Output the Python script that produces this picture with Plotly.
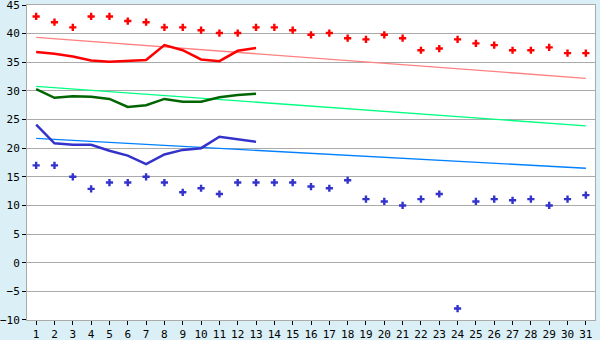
import plotly.graph_objects as go

days = list(range(1, 32))
max_pts = [43, 42, 41.1, 43, 43, 42.2, 42, 41.1, 41.1, 40.6, 40.1, 40.1, 41.1, 41.1, 40.6,
           39.8, 40.1, 39.2, 39.0, 39.8, 39.2, 37.1, 37.4, 39.0, 38.3, 38.0, 37.1, 37.1,
           37.6, 36.6, 36.6]
min_pts = [17.0, 17.0, 15.0, 12.9, 14.0, 14.0, 15.0, 14.0, 12.3, 13.0, 12.0, 14.0, 14.0,
           14.0, 14.0, 13.3, 13.0, 14.4, 11.1, 10.7, 10.0, 11.1, 12.0, -8.0, 10.7, 11.1,
           10.9, 11.1, 10.0, 11.1, 11.8]
line_days = list(range(1, 14))
max_line = [36.8, 36.5, 36.0, 35.3, 35.1, 35.2, 35.4, 38.0, 37.1, 35.5, 35.2, 37.0, 37.5]
mean_line = [30.3, 28.8, 29.05, 29.0, 28.6, 27.2, 27.5, 28.6, 28.1, 28.1, 28.9, 29.3, 29.5]
min_line = [24.1, 20.85, 20.6, 20.6, 19.55, 18.7, 17.2, 18.9, 19.7, 20.0, 22.0, 21.55, 21.1]
trend_days = [1, 31]
max_trend = [39.35, 32.2]
mean_trend = [30.8, 23.9]
min_trend = [21.7, 16.5]
y_ticks = [-10, -5, 0, 5, 10, 15, 20, 25, 30, 35, 40, 45]

fig = go.Figure()
fig.add_trace(go.Scatter(x=trend_days, y=max_trend, mode="lines",
                         line=dict(color="#ff8080", width=1.3)))
fig.add_trace(go.Scatter(x=trend_days, y=mean_trend, mode="lines",
                         line=dict(color="#00ff80", width=1.3)))
fig.add_trace(go.Scatter(x=trend_days, y=min_trend, mode="lines",
                         line=dict(color="#0080ff", width=1.3)))
fig.add_trace(go.Scatter(x=line_days, y=max_line, mode="lines",
                         line=dict(color="#ff0000", width=2.5)))
fig.add_trace(go.Scatter(x=line_days, y=mean_line, mode="lines",
                         line=dict(color="#006400", width=2.5)))
fig.add_trace(go.Scatter(x=line_days, y=min_line, mode="lines",
                         line=dict(color="#3333cc", width=2.5)))
fig.add_trace(go.Scatter(x=days, y=max_pts, mode="markers",
                         marker=dict(symbol="cross", size=6, color="#ff0000",
                                     line=dict(width=0))))
fig.add_trace(go.Scatter(x=days, y=min_pts, mode="markers",
                         marker=dict(symbol="cross", size=6, color="#3333cc",
                                     line=dict(width=0))))

fig.update_layout(
    width=600, height=340,
    margin=dict(l=27, r=5, t=5, b=20),
    paper_bgcolor="#daeff6",
    plot_bgcolor="#ffffff",
    showlegend=False,
    font=dict(family="DejaVu Sans Mono", size=11, color="#000000"),
)
fig.update_xaxes(range=[0.5, 31.5], tickmode="array", tickvals=days,
                 ticktext=[str(d) for d in days],
                 showgrid=False, zeroline=False, automargin=False,
                 showline=True, linecolor="#aaaaaa", linewidth=1, mirror=True,
                 ticks="outside", ticklen=4, tickcolor="#000000", tickwidth=1,
                 tickfont=dict(size=11), ticklabeloverflow="allow")
fig.update_yaxes(range=[-10.001, 45.001], tickmode="array", tickvals=y_ticks,
                 showgrid=True, gridcolor="#aaaaaa", gridwidth=1, zeroline=False,
                 automargin=False,
                 showline=True, linecolor="#aaaaaa", linewidth=1, mirror=True,
                 ticks="outside", ticklen=4, tickcolor="#000000", tickwidth=1,
                 tickfont=dict(size=11), ticklabeloverflow="allow")

fig.write_html("out.html")
